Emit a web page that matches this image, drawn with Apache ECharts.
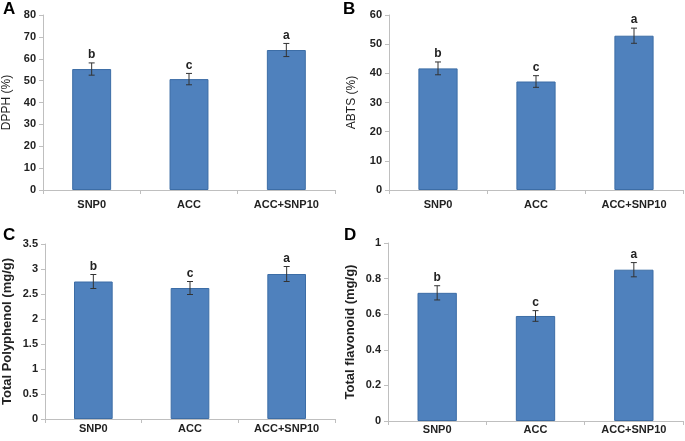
<!DOCTYPE html>
<html>
<head>
<meta charset="utf-8">
<script src="https://cdn.jsdelivr.net/npm/echarts@6/dist/echarts.min.js"></script>
<style>
html,body{margin:0;padding:0;background:#fff;}
#chart{width:685px;height:441px;}
</style>
</head>
<body>
<div id="chart"></div>
<script>
const categories = ['SNP0', 'ACC', 'ACC+SNP10'];

const dpphValues = [55.3, 50.7, 64.0];
const dpphErrors = [2.8, 2.6, 3.0];
const dpphLetters = ['b', 'c', 'a'];

const abtsValues = [41.7, 37.2, 52.9];
const abtsErrors = [2.2, 2.0, 2.6];
const abtsLetters = ['b', 'c', 'a'];

const polyphenolValues = [2.75, 2.62, 2.90];
const polyphenolErrors = [0.14, 0.13, 0.15];
const polyphenolLetters = ['b', 'c', 'a'];

const flavonoidValues = [0.72, 0.59, 0.85];
const flavonoidErrors = [0.04, 0.03, 0.04];
const flavonoidLetters = ['b', 'c', 'a'];

const FONT = '"Liberation Sans", Arial, sans-serif';

const panels = [
  {letter: 'A', name: 'DPPH (%)', nameSize: 12, nameWeight: 'normal', nameGap: 30, max: 80, interval: 10,
   values: dpphValues, errors: dpphErrors, letters: dpphLetters,
   grid: {left: 41, right: 350, top: 15, bottom: 251}, labelMargin: 9, letterPos: [3, 1]},
  {letter: 'B', name: 'ABTS (%)', nameSize: 12, nameWeight: 'normal', nameGap: 31, max: 60, interval: 10,
   values: abtsValues, errors: abtsErrors, letters: abtsLetters,
   grid: {left: 389, right: 2, top: 15, bottom: 251}, labelMargin: 9, letterPos: [343, 1]},
  {letter: 'C', name: 'Total Polyphenol (mg/g)', nameSize: 13, nameWeight: 'bold', nameGap: 31, max: 3.5, interval: 0.5,
   values: polyphenolValues, errors: polyphenolErrors, letters: polyphenolLetters,
   grid: {left: 45, right: 350, top: 244, bottom: 22}, labelMargin: 4, letterPos: [3, 227]},
  {letter: 'D', name: 'Total flavonoid (mg/g)', nameSize: 13, nameWeight: 'bold', nameGap: 31, max: 1, interval: 0.2,
   values: flavonoidValues, errors: flavonoidErrors, letters: flavonoidLetters,
   grid: {left: 388, right: 2, top: 243, bottom: 20}, labelMargin: 3, letterPos: [344, 227]}
];

const option = {
  backgroundColor: '#ffffff',
  animation: false,
  grid: [], xAxis: [], yAxis: [], series: [], graphic: []
};

panels.forEach((p, i) => {
  option.grid.push(Object.assign({containLabel: false}, p.grid));
  option.xAxis.push({
    type: 'category', gridIndex: i, data: categories,
    axisLine: {show: true, lineStyle: {color: '#bfbfbf', width: 1}},
    axisTick: {show: true, length: 4, lineStyle: {color: '#bfbfbf'}},
    axisLabel: {color: '#222', fontFamily: FONT, fontWeight: 'bold', fontSize: 11, margin: p.labelMargin},
    splitLine: {show: false}
  });
  option.yAxis.push({
    type: 'value', gridIndex: i, min: 0, max: p.max, interval: p.interval,
    name: p.name, nameLocation: 'middle', nameGap: p.nameGap, nameRotate: 90,
    nameTextStyle: {color: '#222', fontFamily: FONT, fontSize: p.nameSize, fontWeight: p.nameWeight},
    axisLine: {show: true, lineStyle: {color: '#bfbfbf', width: 1}},
    axisTick: {show: true, length: 4, lineStyle: {color: '#bfbfbf'}},
    axisLabel: {color: '#222', fontFamily: FONT, fontWeight: 'bold', fontSize: 11, margin: 7},
    splitLine: {show: false}
  });
  option.series.push({
    type: 'bar', xAxisIndex: i, yAxisIndex: i,
    data: p.values, barWidth: '40%',
    itemStyle: {color: '#4f81bd', borderColor: '#3c6da6', borderWidth: 1}
  });
  const letters = p.letters;
  option.series.push({
    type: 'custom', xAxisIndex: i, yAxisIndex: i, z: 5,
    data: p.values.map((v, k) => [k, v, p.errors[k]]),
    renderItem: function (params, api) {
      const x = api.value(0), v = api.value(1), e = api.value(2);
      const top = api.coord([x, v + e]);
      const bot = api.coord([x, v - e]);
      const cap = 3;
      const ls = {stroke: '#333', lineWidth: 1};
      return {
        type: 'group',
        children: [
          {type: 'line', shape: {x1: top[0], y1: top[1], x2: bot[0], y2: bot[1]}, style: ls},
          {type: 'line', shape: {x1: top[0] - cap, y1: top[1], x2: top[0] + cap, y2: top[1]}, style: ls},
          {type: 'line', shape: {x1: bot[0] - cap, y1: bot[1], x2: bot[0] + cap, y2: bot[1]}, style: ls},
          {type: 'text', style: {text: letters[params.dataIndex], x: top[0], y: top[1] - 2,
            align: 'center', verticalAlign: 'bottom', fill: '#222',
            font: 'bold 12px ' + FONT}}
        ]
      };
    }
  });
  option.graphic.push({
    type: 'text', left: p.letterPos[0], top: p.letterPos[1],
    style: {text: p.letter, fill: '#000', font: 'bold 17px ' + FONT}
  });
});

const chart = echarts.init(document.getElementById('chart'), null, {renderer: 'canvas'});
chart.setOption(option);
</script>
</body>
</html>
